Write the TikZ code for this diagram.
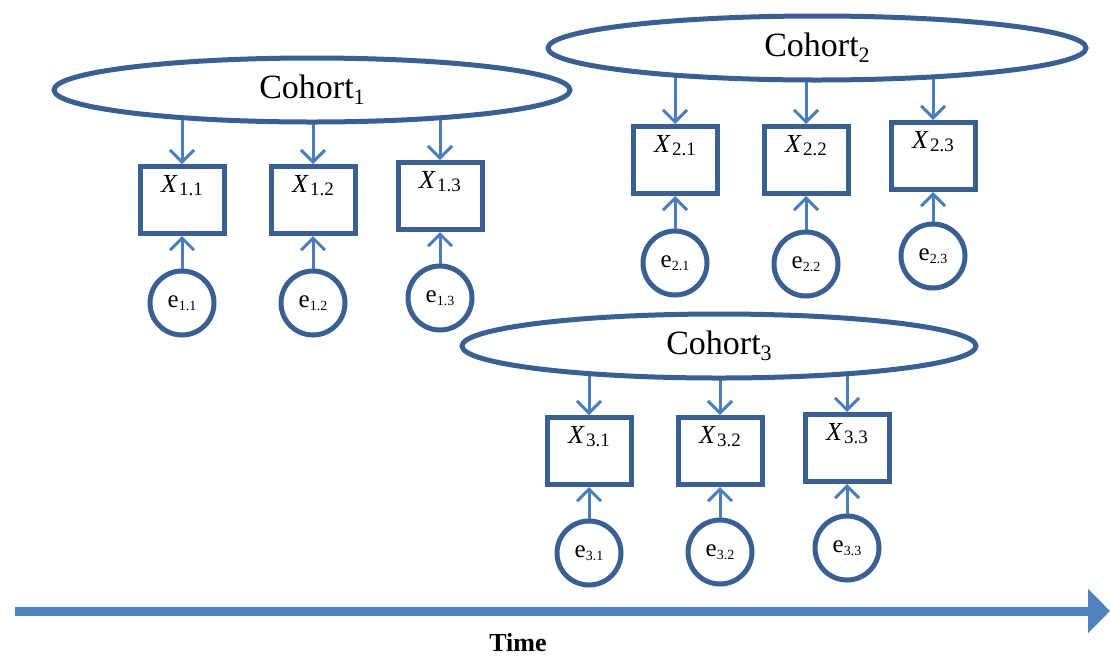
\documentclass[tikz,border=0pt]{standalone}
\usepackage{fontspec}
\setmainfont{Liberation Serif}
\usetikzlibrary{shapes.geometric,arrows.meta,backgrounds}
\definecolor{outl}{HTML}{3A6092}
\definecolor{arrc}{HTML}{4A7EBB}
\definecolor{timec}{HTML}{4F81BD}
\tikzset{
  x=1pt,y=-1pt,
  cohort/.style={draw=outl,line width=5pt,fill=white,ellipse,inner sep=0pt,
    font=\fontsize{34}{38}\selectfont},
  varbox/.style={draw=outl,line width=5pt,fill=white,rectangle,inner sep=0pt,
    minimum width=84pt,text height=26pt,text depth=41pt,
    font=\fontsize{26}{30}\selectfont},
  errc/.style={draw=outl,line width=5pt,fill=white,circle,inner sep=0pt,
    minimum size=64pt,font=\fontsize{25}{28}\selectfont},
  arr/.style={draw=arrc,line width=3pt,-{Straight Barb[length=12pt,width=24pt]}},
}
\newcommand{\xsub}[1]{\textit{X}\kern1.5pt\raisebox{-3pt}{\fontsize{19}{22}\selectfont #1}}
\newcommand{\esub}[1]{e{\fontsize{14}{16}\selectfont\raisebox{-3pt}{#1}}}
\newcommand{\csub}[1]{Cohort{\fontsize{22}{24}\selectfont\raisebox{-6pt}{#1}}}
\begin{document}
\begin{tikzpicture}
\useasboundingbox (0,0) rectangle (1110,657);
% Cohort 1
\node[cohort,minimum width=516pt,minimum height=64pt] (C1) at (312,90) {\csub{1}};
\node[varbox] (X11) at (182,200) {\xsub{1.1}};
\node[varbox] (X12) at (313,200) {\xsub{1.2}};
\node[varbox] (X13) at (440,196) {\xsub{1.3}};
\node[errc] (e11) at (182,303) {\esub{1.1}};
\node[errc] (e12) at (313,303) {\esub{1.2}};
\node[errc] (e13) at (440,298) {\esub{1.3}};
% Cohort 2
\node[cohort,minimum width=538pt,minimum height=64pt] (C2) at (817,48) {\csub{2}};
\node[varbox] (X21) at (675,160) {\xsub{2.1}};
\node[varbox] (X22) at (806,160) {\xsub{2.2}};
\node[varbox] (X23) at (933,156) {\xsub{2.3}};
\node[errc] (e21) at (675,263) {\esub{2.1}};
\node[errc] (e22) at (806,264) {\esub{2.2}};
\node[errc] (e23) at (933,256) {\esub{2.3}};
% Cohort 3
\node[cohort,minimum width=514pt,minimum height=64pt] (C3) at (719,346) {\csub{3}};
\node[varbox] (X31) at (589,451) {\xsub{3.1}};
\node[varbox] (X32) at (720,451) {\xsub{3.2}};
\node[varbox] (X33) at (847,448) {\xsub{3.3}};
\node[errc] (e31) at (589,553) {\esub{3.1}};
\node[errc] (e32) at (720,552) {\esub{3.2}};
\node[errc] (e33) at (847,548) {\esub{3.3}};
% arrows
\begin{scope}[on background layer]
\foreach \c/\a/\b/\d in {C1/X11/X12/X13,C2/X21/X22/X23,C3/X31/X32/X33}{
  \draw[arr] (\a.north |- \c.center) -- (\a.north);
  \draw[arr] (\b.north |- \c.center) -- (\b.north);
  \draw[arr] (\d.north |- \c.center) -- (\d.north);
}
\end{scope}
\foreach \n in {11,12,13,21,22,23,31,32,33}{
  \draw[arr] (e\n.north) -- (X\n.south);
}
% time axis
\coordinate (t0) at (15,611);
\coordinate (t1) at (1110,611);
\draw[timec,line width=9pt,-{Triangle[length=22pt,width=43pt]}] (t0) -- (t1);
\node[font=\fontsize{26}{30}\selectfont\bfseries] (time) at (518,643) {Time};
\end{tikzpicture}
\end{document}
